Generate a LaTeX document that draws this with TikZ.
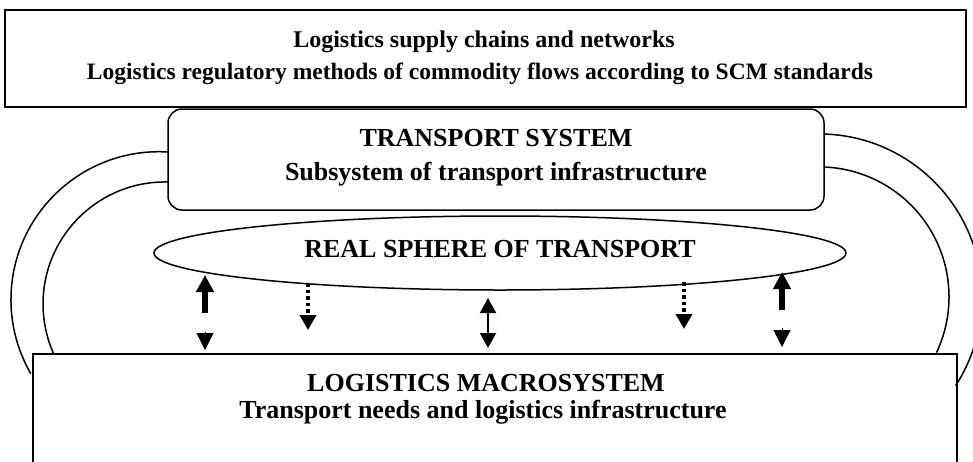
\documentclass[tikz,border=0pt]{standalone}
\usepackage{fontspec}
\setmainfont{Liberation Serif}
\usetikzlibrary{arrows.meta,shapes.geometric}
\begin{document}
\begin{tikzpicture}[x=1pt,y=-1pt,
  box/.style={draw, line width=1.5pt, inner sep=0pt},
  lbl/.style={anchor=base, inner sep=0pt, font=\bfseries\fontsize{26}{30}\selectfont},
  toplbl/.style={anchor=base, inner sep=0pt, font=\bfseries\fontsize{23.5}{27}\selectfont},
  arcline/.style={line width=1.5pt},
  fatup/.style={line width=6pt, -{Triangle[width=17pt,length=17pt]}},
  downhead/.style={line width=1pt, -{Triangle[width=17pt,length=17pt]}},
  dotdown/.style={line width=4.5pt, dash pattern=on 3.5pt off 3pt, -{Triangle[width=16pt,length=15pt]}},
  thinboth/.style={line width=2pt, {Triangle[width=16pt,length=15pt]}-{Triangle[width=16pt,length=15pt]}}
]
\useasboundingbox (0,0) rectangle (973,461);
\clip (0,0) rectangle (973,461);

% boxes
\node[box, line width=2pt, minimum width=961pt, minimum height=97pt] (top) at (485.5,58.5) {};
\node[box, rounded corners=14pt, minimum width=656pt, minimum height=101pt] (trans) at (496,159.5) {};
\node[box, ellipse, minimum width=692pt, minimum height=74pt] (sphere) at (500,253) {};
\node[box, anchor=north west, minimum width=924pt, minimum height=140pt] (macro) at (32,353) {};

% texts
\node[toplbl, font=\bfseries\fontsize{24}{27}\selectfont] (t1) at (484,47) {Logistics supply chains and networks};
\node[toplbl] (t2) at (480,79) {Logistics regulatory methods of commodity flows according to SCM standards};
\node[lbl] (s1) at (496,146.7) {TRANSPORT SYSTEM};
\node[lbl] (s2) at (496,180) {Subsystem of transport infrastructure};
\node[lbl] (r1) at (500,257.3) {REAL SPHERE OF TRANSPORT};
\node[lbl] (m1) at (486,391) {LOGISTICS MACROSYSTEM};
\node[lbl] (m2) at (483,418.5) {Transport needs and logistics infrastructure};

% side arcs
\coordinate (lo) at (168,152);
\coordinate (li) at (168,182);
\coordinate (ro) at (824,134);
\coordinate (ri) at (824,167);
\draw[arcline] (lo) arc[start angle=-86.5, end angle=-210, radius=148];
\draw[arcline] (li) arc[start angle=-88.6, end angle=-204.3, radius=122];
\draw[arcline] (ri) arc[start angle=-87.8, end angle=25.4, radius=130];
\draw[arcline] (ro) arc[start angle=-88.2, end angle=33, radius=163];

% arrows
\coordinate (a1s) at (205,313); \coordinate (a1t) at (205,275);
\coordinate (a1d) at (205,332); \coordinate (a1e) at (205,350);
\coordinate (a2s) at (308,283); \coordinate (a2t) at (308,330);
\coordinate (a3s) at (488,298); \coordinate (a3t) at (488,348);
\coordinate (a4s) at (684,282); \coordinate (a4t) at (684,329);
\coordinate (a5s) at (782,310); \coordinate (a5t) at (782,272);
\coordinate (a5d) at (782,328); \coordinate (a5e) at (782,347);

\draw[fatup] (a1s) -- (a1t);
\draw[downhead] (a1d) -- (a1e);
\draw[dotdown] (a2s) -- (a2t);
\draw[thinboth] (a3s) -- (a3t);
\draw[dotdown] (a4s) -- (a4t);
\draw[fatup] (a5s) -- (a5t);
\draw[downhead] (a5d) -- (a5e);
\end{tikzpicture}
\end{document}
